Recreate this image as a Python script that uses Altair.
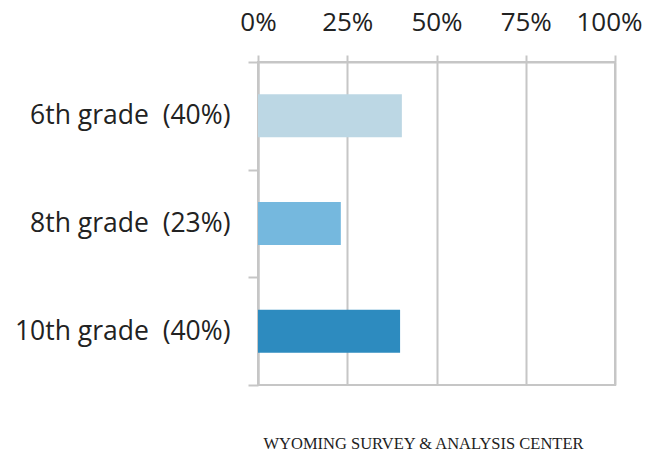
import altair as alt
import pandas as pd

grades = ["6th grade\u00a0 (40%)", "8th grade\u00a0 (23%)", "10th grade\u00a0 (40%)"]
values = [0.403, 0.232, 0.398]
colors = ["#bcd7e4", "#75b8de", "#2d8bbf"]
ticks = [0, 0.25, 0.5, 0.75, 1.0]

df = pd.DataFrame({"grade": grades, "value": values})

grid = "#c6c6c6"

chart = alt.Chart(df).mark_bar(height=alt.RelativeBandSize(0.4)).encode(
    x=alt.X("value:Q",
            scale=alt.Scale(domain=[0, 1], nice=False, zero=True),
            axis=alt.Axis(orient="top", values=ticks, format=".0%", title=None,
                          grid=True, gridColor=grid, gridWidth=2,
                          domain=True, domainColor=grid, domainWidth=2,
                          ticks=True, tickColor=grid, tickWidth=2, tickSize=7,
                          labelPadding=20, labelFont="Open Sans", labelFontSize=26,
                          labelFlush=False, labelOverlap=False, labelBound=False,
                          labelOffset={"condition": {"test": "datum.value == 1", "value": -6},
                                       "value": 0},
                          labelColor="#222222")),
    y=alt.Y("grade:N", sort=grades,
            scale=alt.Scale(paddingInner=0, paddingOuter=0),
            axis=alt.Axis(title=None, tickBand="extent", domain=True, domainColor=grid,
                          domainWidth=2, ticks=True, tickColor=grid, tickWidth=2,
                          tickSize=10, labelPadding=18, labelFont="Open Sans",
                          labelFontSize=26.5, labelLimit=0, labelColor="#222222",
                          grid=False)),
    color=alt.Color("grade:N", scale=alt.Scale(domain=grades, range=colors), legend=None),
).properties(
    width=357,
    height=323,
    autosize=alt.AutoSizeParams(type="none"),
    padding={"left": 250, "top": 54, "right": 27, "bottom": 70},
    title=alt.TitleParams("WYOMING SURVEY & ANALYSIS CENTER", orient="bottom",
                          anchor="middle", font="Liberation Serif", fontSize=16.5,
                          fontWeight="normal", color="#222222", offset=50, dx=-13),
).configure_view(stroke=grid, strokeWidth=2)

chart.save("out.html", embed_options={"renderer": "svg", "actions": False})
